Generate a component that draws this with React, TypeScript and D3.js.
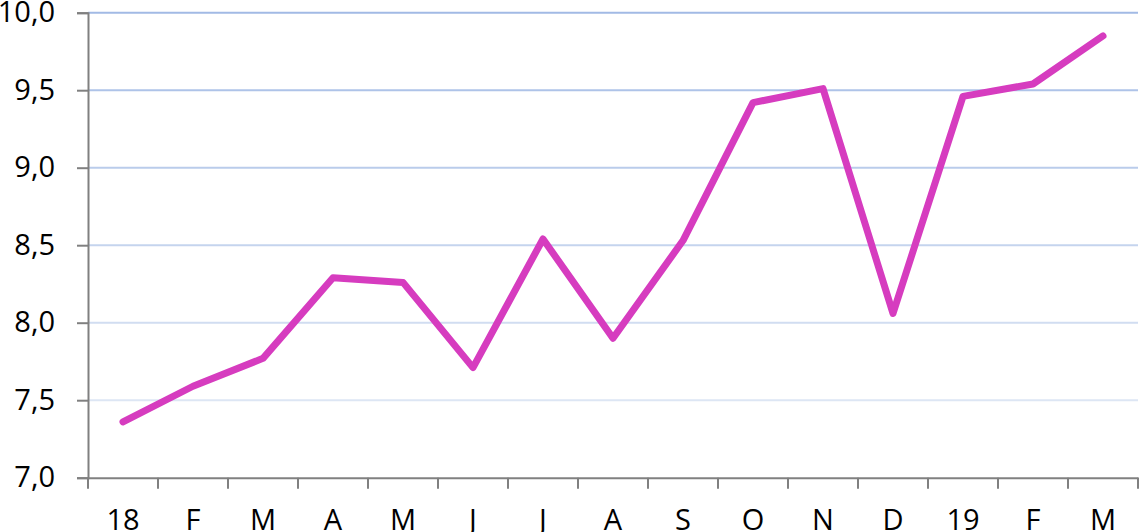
import { useEffect, useRef } from "react";
import * as d3 from "d3";

const categories = ["18", "F", "M", "A", "M", "J", "J", "A", "S", "O", "N", "D", "19", "F", "M"];
const values = [7.36, 7.59, 7.77, 8.29, 8.26, 7.71, 8.54, 7.9, 8.53, 9.42, 9.51, 8.06, 9.46, 9.54, 9.85];
const yTicks = [7.0, 7.5, 8.0, 8.5, 9.0, 9.5, 10.0];

const width = 1140;
const height = 532;
const margin = { top: 12.7, right: 2, bottom: 54.3, left: 88 };

const App = () => {
  const ref = useRef<SVGSVGElement | null>(null);

  useEffect(() => {
    const svg = d3.select(ref.current);
    svg.selectAll("*").remove();

    const idx = categories.map((_, i) => String(i));
    const x = d3
      .scaleBand()
      .domain(idx)
      .range([margin.left, width - margin.right]);

    const y = d3
      .scaleLinear()
      .domain([7, 10])
      .range([height - margin.bottom, margin.top]);

    // gridlines fade out toward the bottom
    const gridColor = d3.scaleLinear<string>().domain([7.5, 10]).range(["#dde6f4", "#a2bae5"]);

    svg
      .append("g")
      .selectAll("line")
      .data(yTicks.filter((t) => t > 7))
      .join("line")
      .attr("x1", margin.left)
      .attr("x2", width - margin.right)
      .attr("y1", (d) => y(d))
      .attr("y2", (d) => y(d))
      .attr("stroke", (d) => gridColor(d))
      .attr("stroke-width", 2);

    const font = "'Open Sans', sans-serif";

    const yAxis = svg
      .append("g")
      .attr("transform", `translate(${margin.left},0)`)
      .call(
        d3
          .axisLeft(y)
          .tickValues(yTicks)
          .tickSize(11)
          .tickPadding(22)
          .tickFormat((d) => d3.format(".1f")(d as number).replace(".", ","))
      );
    yAxis.select(".domain").attr("stroke", "#808080").attr("stroke-width", 2);
    yAxis.selectAll(".tick line").attr("stroke", "#808080").attr("stroke-width", 2);
    yAxis
      .selectAll(".tick text")
      .attr("fill", "#000")
      .attr("font-family", font)
      .attr("font-size", 29)
      .style("font-family", font)
      .style("font-size", "29px");

    const xAxis = svg
      .append("g")
      .attr("transform", `translate(0,${height - margin.bottom})`)
      .call(
        d3
          .axisBottom(x)
          .tickSize(0)
          .tickPadding(32)
          .tickFormat((d) => categories[+d])
      );
    xAxis.select(".domain").attr("stroke", "#808080").attr("stroke-width", 2);
    xAxis
      .selectAll(".tick text")
      .attr("fill", "#000")
      .attr("font-family", font)
      .attr("font-size", 29)
      .style("font-family", font)
      .style("font-size", "29px");

    // tick marks between categories
    const bounds = idx.map((d) => x(d) as number).concat([width - margin.right]);
    xAxis
      .append("g")
      .selectAll("line")
      .data(bounds)
      .join("line")
      .attr("x1", (d) => d)
      .attr("x2", (d) => d)
      .attr("y1", 0)
      .attr("y2", 11)
      .attr("stroke", "#808080")
      .attr("stroke-width", 2);

    const line = d3
      .line<number>()
      .x((_, i) => (x(String(i)) as number) + x.bandwidth() / 2)
      .y((d) => y(d));

    svg
      .append("path")
      .datum(values)
      .attr("fill", "none")
      .attr("stroke", "#d63cbf")
      .attr("stroke-width", 7)
      .attr("stroke-linejoin", "round")
      .attr("stroke-linecap", "round")
      .attr("d", line);
  }, []);

  return (
    <svg
      ref={ref}
      width={width}
      height={height}
      style={{ position: "absolute", left: 0, top: 0, background: "#fff" }}
    ></svg>
  );
};

export default App;
